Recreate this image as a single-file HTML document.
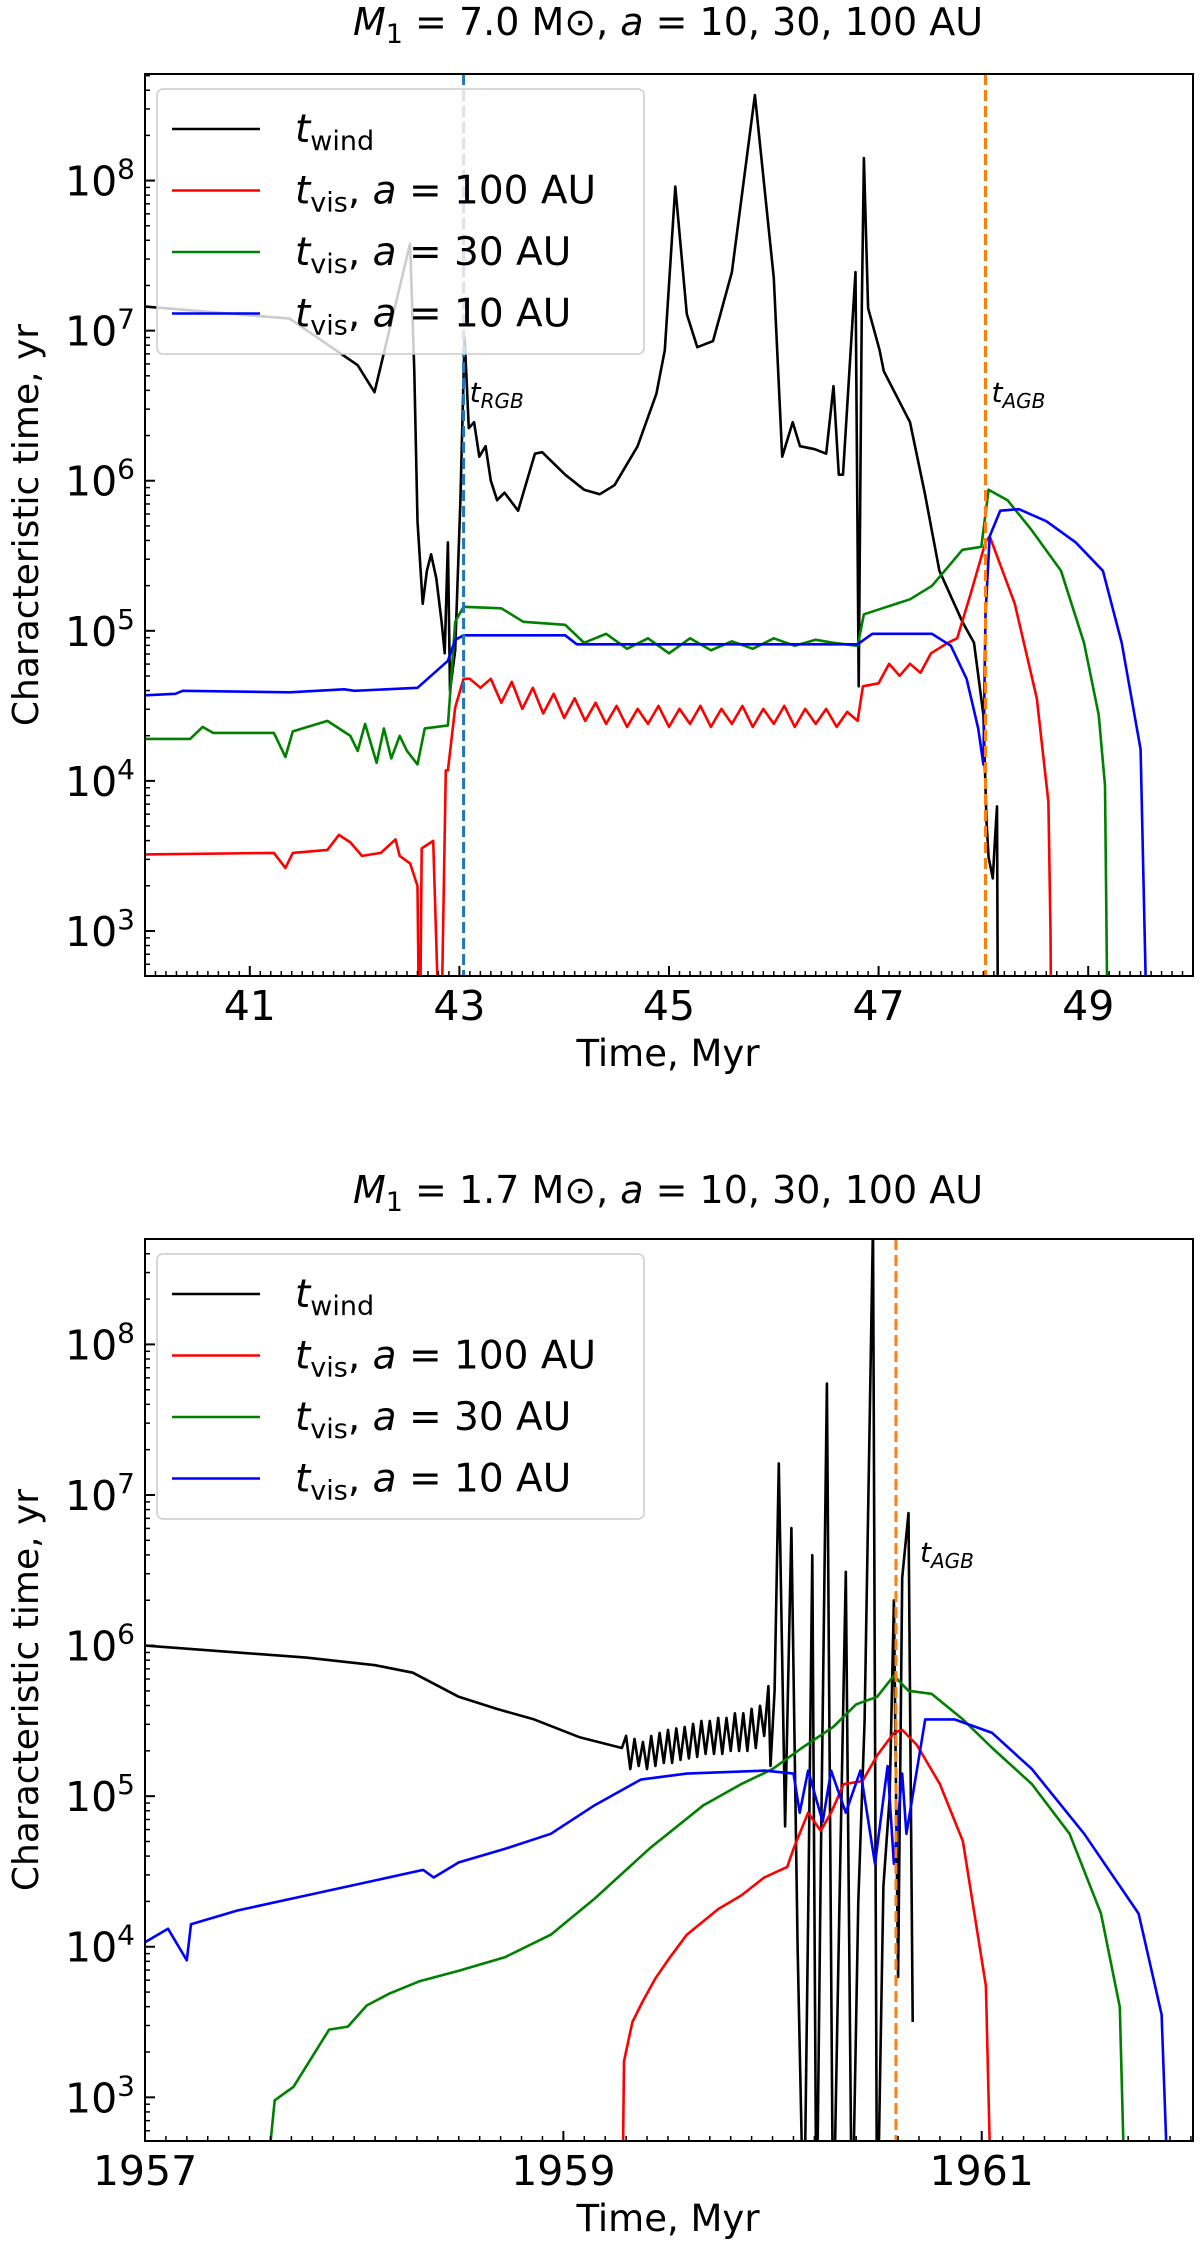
<!DOCTYPE html>
<html><head><meta charset="utf-8">
<style>
html,body{margin:0;padding:0;background:#fff;}
svg{display:block;font-family:"DejaVu Sans","Liberation Sans",sans-serif;}
</style></head>
<body>
<svg id="chart" width="1200" height="2251" viewBox="0 0 1200 2251" xmlns="http://www.w3.org/2000/svg"></svg>
<script>
// ---------- Panel 1 data (M1 = 7.0 Msun) : values are log10(t / yr) ----------
const topWindT   = [40,41.38,42.03,42.19,42.53,42.57,42.6,42.65,42.69,42.73,42.78,42.83,42.86,42.89,42.91,42.96,43.01,43.05,43.09,43.14,43.19,43.25,43.3,43.36,43.43,43.56,43.72,43.79,44.01,44.19,44.34,44.48,44.7,44.88,44.96,45.06,45.17,45.27,45.42,45.6,45.82,46.0,46.08,46.18,46.25,46.39,46.5,46.57,46.62,46.66,46.78,46.81,46.84,46.86,46.9,47.01,47.05,47.3,47.44,47.58,47.8,47.91,48.0,48.03,48.05,48.09,48.11,48.13,48.14];
const topWindV   = [7.16,7.08,6.77,6.59,7.58,6.73,5.73,5.18,5.40,5.51,5.35,5.06,4.85,5.59,4.6,4.87,5.87,6.96,6.35,6.39,6.16,6.23,6.0,5.87,5.92,5.80,6.18,6.19,6.04,5.94,5.91,5.97,6.23,6.58,6.87,7.96,7.11,6.89,6.93,7.39,8.57,7.35,6.16,6.39,6.23,6.21,6.18,6.63,6.04,6.04,7.39,4.63,7.15,8.15,7.15,6.87,6.73,6.39,5.92,5.40,5.06,4.92,4.44,3.73,3.49,3.35,3.6,3.83,2.0];
const top100T    = [40,41.23,41.34,41.41,41.74,41.85,41.96,42.07,42.25,42.39,42.43,42.53,42.6,42.62,42.64,42.75,42.82,42.87,42.89,42.96,43.04,43.1,43.2,43.3,43.4,43.5,43.6,43.7,43.8,43.9,44.0,44.1,44.2,44.3,44.4,44.5,44.6,44.7,44.8,44.9,45.0,45.1,45.2,45.3,45.4,45.5,45.6,45.7,45.8,45.9,46.0,46.1,46.2,46.3,46.4,46.5,46.6,46.7,46.8,46.85,47.0,47.1,47.2,47.3,47.4,47.5,47.66,47.75,47.88,48.02,48.06,48.3,48.51,48.62,48.64,48.65];
const top100V    = [3.51,3.52,3.42,3.52,3.54,3.64,3.59,3.50,3.52,3.61,3.50,3.45,3.30,2.0,3.55,3.60,2.0,4.07,4.07,4.49,4.68,4.68,4.62,4.68,4.52,4.66,4.48,4.62,4.45,4.58,4.42,4.55,4.40,4.52,4.38,4.50,4.36,4.48,4.38,4.50,4.36,4.48,4.38,4.50,4.36,4.48,4.38,4.50,4.36,4.48,4.38,4.50,4.36,4.48,4.38,4.48,4.36,4.46,4.40,4.63,4.65,4.78,4.70,4.78,4.72,4.85,4.92,4.95,5.25,5.59,5.63,5.18,4.55,3.86,3.0,2.0];
const top30T     = [40,40.43,40.55,40.65,41.23,41.34,41.41,41.74,41.96,42.03,42.1,42.21,42.28,42.35,42.43,42.5,42.6,42.67,42.89,42.96,43.04,43.4,43.61,44.01,44.19,44.4,44.6,44.8,45.0,45.2,45.4,45.6,45.8,46.0,46.2,46.4,46.57,46.8,46.86,47.3,47.51,47.8,47.98,48.05,48.23,48.45,48.74,48.96,49.1,49.16,49.19];
const top30V     = [4.28,4.28,4.36,4.32,4.32,4.16,4.33,4.40,4.30,4.20,4.38,4.12,4.35,4.15,4.30,4.20,4.11,4.35,4.37,5.06,5.16,5.15,5.06,5.04,4.92,4.98,4.88,4.95,4.85,4.95,4.87,4.93,4.88,4.95,4.90,4.94,4.92,4.90,5.11,5.21,5.30,5.54,5.56,5.94,5.87,5.68,5.40,4.92,4.44,3.97,2.0];
const top10T     = [40,40.29,40.36,41.38,41.9,42.0,42.6,42.89,42.96,43.04,44.01,44.12,45.0,46.0,46.8,46.94,47.51,47.69,47.84,47.95,48.0,48.02,48.06,48.16,48.34,48.6,48.88,49.14,49.32,49.5,49.57];
const top10V     = [4.57,4.58,4.60,4.59,4.61,4.60,4.62,4.80,4.94,4.97,4.97,4.91,4.91,4.91,4.91,4.98,4.98,4.90,4.68,4.35,4.11,5.11,5.63,5.80,5.81,5.73,5.59,5.40,4.92,4.21,2.0];
const topXTicks  = [41,43,45,47,49];
const topTRGB = 43.04, topTAGB = 48.02;

// ---------- Panel 2 data (M1 = 1.7 Msun) ----------
const botWindT   = [1957,1957.77,1958.1,1958.28,1958.5,1958.68,1958.86,1959.08,1959.28,1959.3,1959.32,1959.34,1959.36,1959.38,1959.4,1959.42,1959.44,1959.46,1959.48,1959.5,1959.52,1959.54,1959.56,1959.58,1959.6,1959.62,1959.64,1959.66,1959.68,1959.7,1959.72,1959.74,1959.76,1959.78,1959.8,1959.82,1959.84,1959.86,1959.88,1959.9,1959.92,1959.94,1959.96,1959.98,1959.99,1960.01,1960.03,1960.06,1960.09,1960.12,1960.15,1960.17,1960.19,1960.21,1960.23,1960.26,1960.29,1960.32,1960.35,1960.38,1960.41,1960.44,1960.48,1960.5,1960.53,1960.56,1960.58,1960.6,1960.62,1960.65,1960.67];
const botWindV   = [6.0,5.92,5.87,5.82,5.66,5.58,5.51,5.39,5.32,5.4,5.18,5.38,5.2,5.36,5.18,5.4,5.2,5.42,5.22,5.44,5.22,5.45,5.24,5.46,5.25,5.48,5.26,5.5,5.28,5.5,5.28,5.52,5.28,5.52,5.3,5.55,5.3,5.55,5.3,5.58,5.32,5.6,5.4,5.73,5.2,5.7,7.21,4.8,6.78,4.0,2.0,4.17,6.6,2.0,4.5,7.74,2.0,4.3,6.49,2.0,4.3,5.5,8.8,2.0,4.4,5.0,6.3,3.8,6.45,6.88,3.5];
const bot100T    = [1959.28,1959.29,1959.33,1959.38,1959.44,1959.51,1959.59,1959.74,1959.85,1959.96,1960.07,1960.1,1960.17,1960.23,1960.28,1960.34,1960.43,1960.5,1960.58,1960.62,1960.69,1960.8,1960.91,1961.02,1961.05];
const bot100V    = [2.0,3.24,3.50,3.64,3.79,3.93,4.08,4.25,4.34,4.46,4.53,4.65,4.89,4.77,4.89,5.08,5.10,5.27,5.42,5.44,5.34,5.08,4.70,3.74,2.0];
const bot30T     = [1957.55,1957.62,1957.71,1957.88,1957.97,1958.06,1958.17,1958.31,1958.5,1958.72,1958.94,1959.15,1959.41,1959.67,1959.85,1960.0,1960.14,1960.29,1960.4,1960.5,1960.58,1960.65,1960.76,1960.91,1961.05,1961.24,1961.42,1961.57,1961.66,1961.69];
const bot30V     = [2.0,2.98,3.07,3.45,3.47,3.61,3.69,3.77,3.84,3.93,4.08,4.32,4.65,4.94,5.08,5.18,5.32,5.46,5.61,5.66,5.80,5.70,5.68,5.51,5.32,5.08,4.75,4.22,3.60,2.0];
const bot10T     = [1957,1957.11,1957.2,1957.22,1957.44,1957.77,1958.33,1958.38,1958.5,1958.72,1958.94,1959.15,1959.37,1959.59,1959.96,1960.1,1960.13,1960.17,1960.24,1960.28,1960.35,1960.42,1960.49,1960.55,1960.58,1960.62,1960.64,1960.73,1960.87,1961.05,1961.24,1961.49,1961.75,1961.86,1961.9];
const bot10V     = [4.03,4.12,3.91,4.15,4.24,4.34,4.51,4.46,4.56,4.65,4.75,4.94,5.11,5.15,5.17,5.15,4.89,5.17,4.83,5.17,4.89,5.17,4.55,5.2,4.55,5.15,4.75,5.51,5.51,5.42,5.18,4.75,4.22,3.55,2.0];
const botXTicks  = [1957,1959,1961];
const botTAGB = 1960.59;

const yTicks = [3,4,5,6,7,8];

const NS = "http://www.w3.org/2000/svg";
const svg = document.getElementById('chart');
function mk(tag, attrs, parent){
  const e = document.createElementNS(NS, tag);
  for (const k in attrs) e.setAttribute(k, attrs[k]);
  (parent||svg).appendChild(e);
  return e;
}

function panel(cfg){
  const g = mk('g', {});
  
  
  const L=145, R=1193, T=cfg.top, B=cfg.bottom;
  const xs = t => L + (t-cfg.x0)/(cfg.x1-cfg.x0)*(R-L);
  const ys = v => B - (v-cfg.y0)/(cfg.y1-cfg.y0)*(B-T);
  const cpId = 'clip-'+cfg.name;
  const defs = mk('defs', {}, g);
  const cp = mk('clipPath', {id: cpId}, defs);
  mk('rect', {x:L, y:T, width:R-L, height:B-T}, cp);

  const title = mk('text', {x:668, y:cfg.titleY, 'text-anchor':'middle', 'font-size':38, fill:'#000'}, g);
  
  
  title.innerHTML = '<tspan font-style="italic">M</tspan><tspan font-size="27" dy="8">1</tspan><tspan dy="-8"> = '+cfg.mass+' M</tspan><tspan>⊙</tspan><tspan>, </tspan><tspan font-style="italic">a</tspan><tspan> = 10, 30, 100 AU</tspan>';

  const plot = mk('g', {'clip-path':'url(#'+cpId+')'}, g);
  function series(T_, V_, color, name){
    const pts = T_.map((t,i)=>xs(t).toFixed(1)+','+ys(V_[i]).toFixed(1)).join(' ');
    const p = mk('polyline', {points:pts, fill:'none', stroke:color, 'stroke-width':2.6, 'stroke-linejoin':'round'}, plot);
    
    
  }
  series(cfg.wT, cfg.wV, '#000', 'series-t-wind');
  series(cfg.aT, cfg.aV, '#ff0000', 'series-t-vis-100au');
  series(cfg.bT, cfg.bV, '#008000', 'series-t-vis-30au');
  series(cfg.cT, cfg.cV, '#0000ff', 'series-t-vis-10au');

  cfg.vlines.forEach(v=>{
    const ln = mk('line', {x1:xs(v.t), x2:xs(v.t), y1:T, y2:B, stroke:v.color, 'stroke-width':3, 'stroke-dasharray':'11,5'}, plot);
    
    
    const lb = mk('text', {x:xs(v.t)+cfg.lblDx, y:v.ly, 'font-size':28, 'font-style':'italic', fill:'#000'}, g);
    
    
    lb.innerHTML = 't<tspan font-size="20" dy="6">'+v.sub+'</tspan>';
  });

  const fr = mk('rect', {x:L, y:T, width:R-L, height:B-T, fill:'none', stroke:'#000', 'stroke-width':2}, g);
  
  

  for (let k=Math.ceil(cfg.x0*10); k<=cfg.x1*10; k++){
    const X=xs(k/10);
    mk('line', {x1:X, x2:X, y1:B, y2:B-5, stroke:'#000', 'stroke-width':1.5}, g);
  }
  cfg.xt.forEach(t=>{
    const X=xs(t);
    mk('line', {x1:X, x2:X, y1:B, y2:B-10, stroke:'#000', 'stroke-width':2}, g);
    const tx = mk('text', {x:X, y:B+44, 'text-anchor':'middle', 'font-size':41, fill:'#000'}, g);
    
    
    tx.textContent = t;
  });
  for (let d=2; d<9; d++){
    for (let m=1; m<10; m++){
      const v = d+Math.log10(m);
      if (v<cfg.y0 || v>cfg.y1) continue;
      const Y=ys(v);
      mk('line', {x1:L, x2:L+(m===1?10:5), y1:Y, y2:Y, stroke:'#000', 'stroke-width':m===1?2:1.5}, g);
    }
  }
  yTicks.forEach(d=>{
    const Y=ys(d);
    const tx = mk('text', {x:L-10, y:Y+15, 'text-anchor':'end', 'font-size':41, fill:'#000'}, g);
    
    
    tx.innerHTML = '10<tspan font-size="28" dy="-17">'+d+'</tspan>';
  });
  const xl = mk('text', {x:668, y:B+90, 'text-anchor':'middle', 'font-size':37, fill:'#000'}, g);
  
  
  xl.textContent = 'Time, Myr';
  const yl = mk('text', {x:0, y:0, 'text-anchor':'middle', 'font-size':36, fill:'#000', transform:'translate(38,'+((T+B)/2)+') rotate(-90)'}, g);
  
  
  yl.textContent = 'Characteristic time, yr';

  const lg = mk('g', {}, g);
  
  
  const ly = T+15;
  mk('rect', {x:157, y:ly, width:487, height:265, rx:6, fill:'#fff', 'fill-opacity':0.8, stroke:'#ccc', 'stroke-width':1.5}, lg);
  const ents = [['#000','<tspan font-style="italic">t</tspan><tspan font-size="27" dy="8">wind</tspan>','legend-entry-wind'],
    ['#ff0000','<tspan font-style="italic">t</tspan><tspan font-size="27" dy="8">vis</tspan><tspan dy="-8">, </tspan><tspan font-style="italic">a</tspan> = 100 AU','legend-entry-100au'],
    ['#008000','<tspan font-style="italic">t</tspan><tspan font-size="27" dy="8">vis</tspan><tspan dy="-8">, </tspan><tspan font-style="italic">a</tspan> = 30 AU','legend-entry-30au'],
    ['#0000ff','<tspan font-style="italic">t</tspan><tspan font-size="27" dy="8">vis</tspan><tspan dy="-8">, </tspan><tspan font-style="italic">a</tspan> = 10 AU','legend-entry-10au']];
  ents.forEach((e,i)=>{
    const yy = ly+40+i*61.5;
    const eg = mk('g', {}, lg);
    
    
    mk('line', {x1:172, x2:260, y1:yy, y2:yy, stroke:e[0], 'stroke-width':2.6}, eg);
    const t = mk('text', {x:295, y:yy+13, 'font-size':39, fill:'#000'}, eg);
    t.innerHTML = e[1];
  });
}

panel({name:'panel-m1-7', top:74, bottom:976, titleY:35, mass:'7.0', x0:40, x1:50, y0:2.70, y1:8.71,
  wT:topWindT, wV:topWindV, aT:top100T, aV:top100V, bT:top30T, bV:top30V, cT:top10T, cV:top10V, xt:topXTicks, lblDx:6,
  vlines:[{t:topTRGB, color:'#1f77b4', name:'t-rgb-line', sub:'RGB', ly:402},{t:topTAGB, color:'#ff7f0e', name:'t-agb-line', sub:'AGB', ly:402}]});
panel({name:'panel-m1-1-7', top:1239, bottom:2141, titleY:1203, mass:'1.7', x0:1957, x1:1962.01, y0:2.71, y1:8.70,
  wT:botWindT, wV:botWindV, aT:bot100T, aV:bot100V, bT:bot30T, bV:bot30V, cT:bot10T, cV:bot10V, xt:botXTicks, lblDx:24,
  vlines:[{t:botTAGB, color:'#ff7f0e', name:'t-agb-line', sub:'AGB', ly:1562}]});
</script>
</body></html>
